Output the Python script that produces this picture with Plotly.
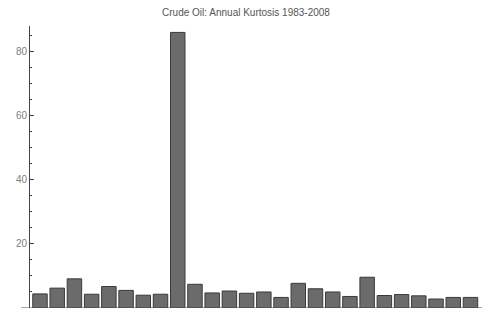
import plotly.graph_objects as go

years = list(range(1983, 2009))
kurtosis = [4.4, 6.2, 9.1, 4.3, 6.7, 5.5, 4.0, 4.3, 86.0, 7.4, 4.7, 5.3, 4.6,
            5.0, 3.3, 7.7, 6.0, 5.0, 3.6, 9.6, 3.9, 4.2, 3.8, 2.8, 3.3, 3.3]
y_ticks = [20, 40, 60, 80]
title_text = "Crude Oil: Annual Kurtosis 1983-2008"

fig = go.Figure(go.Bar(
    x=years, y=kurtosis,
    marker=dict(color="#6b6b6b", line=dict(color="#3a3a3a", width=1)),
))

fig.update_layout(
    width=482, height=315,
    margin=dict(l=30, r=0, t=26, b=7, autoexpand=False),
    paper_bgcolor="white", plot_bgcolor="white",
    showlegend=False,
    bargap=0.16,
    title=dict(text=title_text, x=246/482, xanchor="center", xref="container",
               y=1 - 12/315, yanchor="middle", yref="container",
               font=dict(family="Arial", size=10, color="#555555")),
    xaxis=dict(range=[1982.42, 2008.67], showticklabels=False, ticks="",
               showgrid=False, zeroline=False, showline=False, automargin=False),
    yaxis=dict(range=[0, 88], tickvals=y_ticks, ticks="inside", ticklen=4,
               tickcolor="#444444", tickwidth=1, automargin=False,
               minor=dict(dtick=5, ticks="inside", ticklen=2, tickcolor="#444444"),
               showgrid=False, zeroline=False, showline=True, linecolor="#444444",
               linewidth=1,
               tickfont=dict(family="Arial", size=10, color="#808080")),
    shapes=[dict(type="line", xref="paper", yref="y", x0=-9/452, x1=1, y0=0, y1=0,
                 line=dict(color="#555555", width=1))],
)

fig.write_html("out.html", config={"displayModeBar": False},
               post_script="document.body.style.margin='0';document.body.style.overflow='hidden';")
